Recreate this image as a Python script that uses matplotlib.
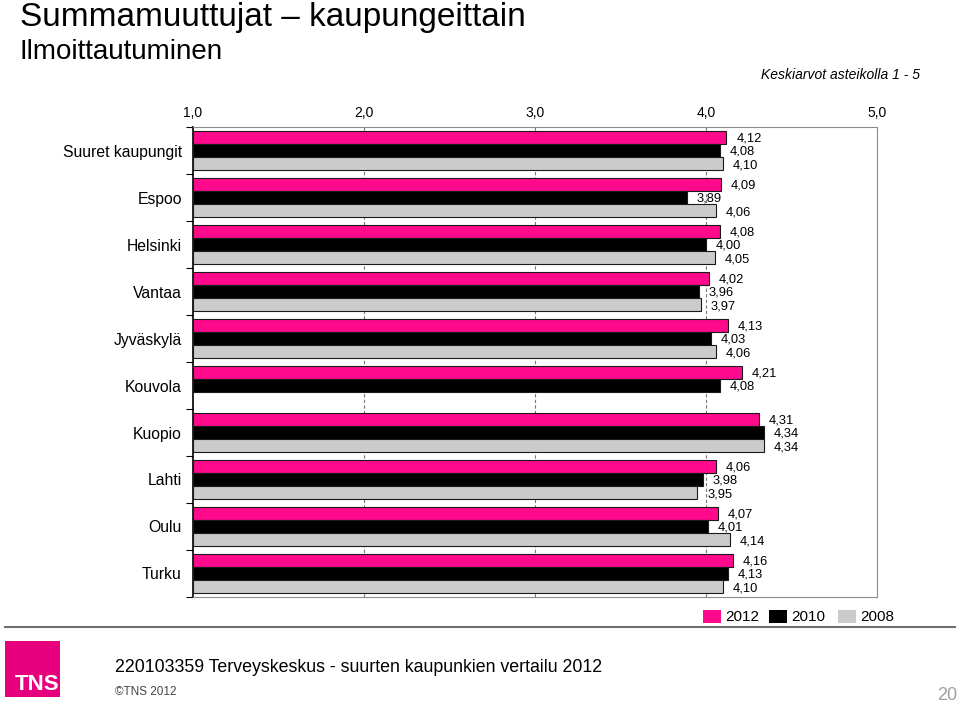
import numpy as np
import matplotlib
matplotlib.use("Agg")
from matplotlib import pyplot as plt
from matplotlib.patches import Rectangle

plt.rcParams['font.family'] = ['Liberation Sans', 'DejaVu Sans']

# The data
cities = ["Suuret kaupungit", "Espoo", "Helsinki", "Vantaa", "Jyväskylä",
          "Kouvola", "Kuopio", "Lahti", "Oulu", "Turku"]
v2012 = [4.12, 4.09, 4.08, 4.02, 4.13, 4.21, 4.31, 4.06, 4.07, 4.16]
v2010 = [4.08, 3.89, 4.00, 3.96, 4.03, 4.08, 4.34, 3.98, 4.01, 4.13]
v2008 = [4.10, 4.06, 4.05, 3.97, 4.06, np.nan, 4.34, 3.95, 4.14, 4.10]
years = ["2012", "2010", "2008"]
colors = ["#FF0A8C", "#000000", "#CBCBCB"]
xticks = [1.0, 2.0, 3.0, 4.0, 5.0]

fig = plt.figure(figsize=(9.6, 7.03), dpi=100)
ax = fig.add_axes([0.201, 0.1508, 0.7125, 0.6685])

y = np.arange(len(cities))
h = 0.283
series = [v2012, v2010, v2008]
for i in range(len(series)):
    vals = np.array(series[i], dtype=float)
    pos = y - h + i * h
    ok = ~np.isnan(vals)
    ax.barh(pos[ok], vals[ok] - 1.0, left=1.0, height=h, color=colors[i],
            edgecolor="#1a1a1a", linewidth=0.8, zorder=3)
    for p, v in zip(pos[ok], vals[ok]):
        ax.annotate(("%.2f" % v).replace(".", ","), xy=(v, p), xytext=(7, -1),
                    textcoords="offset points", ha="left", va="center",
                    fontsize=9.3, color="black")

ax.set_xlim(1.0, 5.0)
ax.set_ylim(len(cities) - 0.5, -0.5)
ax.xaxis.tick_top()
ax.set_xticks(xticks)
ax.set_xticklabels([("%.1f" % t).replace(".", ",") for t in xticks], fontsize=10)
ax.tick_params(axis="x", length=0, pad=5)
ax.set_yticks(y)
ax.set_yticklabels(cities, fontsize=11.3)
ax.tick_params(axis="y", which="major", length=0, pad=8)
ax.set_yticks(np.arange(len(cities) + 1) - 0.5, minor=True)
ax.tick_params(axis="y", which="minor", length=5, width=0.8, direction="out")

for g in [2.0, 3.0, 4.0]:
    ax.axvline(g, color="#777777", linestyle=(0, (3, 2)), linewidth=0.8, zorder=1)

for s in ["top", "right", "bottom"]:
    ax.spines[s].set_color("#8c8c8c")
ax.spines["left"].set_color("black")
ax.spines["left"].set_linewidth(1.2)

# Titles
fig.text(20 / 960, 1 - 26 / 703, "Summamuuttujat \u2013 kaupungeittain", fontsize=24,
         ha="left", va="baseline")
fig.text(20 / 960, 1 - 59 / 703, "Ilmoittautuminen", fontsize=20,
         ha="left", va="baseline")
fig.text(920 / 960, 1 - 75 / 703, "Keskiarvot asteikolla 1 - 5", fontsize=10,
         style="italic", ha="right", va="center")

# Legend
lx = [703, 769, 838]
for i in range(3):
    fig.patches.append(Rectangle((lx[i] / 960, 1 - 623 / 703), 18 / 960, 13 / 703,
                                 transform=fig.transFigure, facecolor=colors[i],
                                 edgecolor="none"))
    fig.text((lx[i] + 22) / 960, 1 - 617 / 703, years[i], fontsize=11,
             ha="left", va="center")

# Footer
fig.add_artist(plt.Line2D([5 / 960, 955 / 960], [1 - 627 / 703, 1 - 627 / 703],
                          transform=fig.transFigure, color="#707070", linewidth=1.5))
fig.patches.append(Rectangle((5 / 960, 1 - 697 / 703), 55 / 960, 56 / 703,
                             transform=fig.transFigure, facecolor="#E6007E",
                             edgecolor="none"))
fig.text(37 / 960, 1 - 684 / 703, "TNS", fontsize=16, color="white", weight="bold",
         ha="center", va="center")
fig.text(115 / 960, 1 - 667 / 703,
         "220103359 Terveyskeskus - suurten kaupunkien vertailu 2012",
         fontsize=12.75, ha="left", va="center")
fig.text(115 / 960, 1 - 692 / 703, "\u00a9TNS 2012", fontsize=8.5, color="#444444",
         ha="left", va="center")
fig.text(957 / 960, 1 - 696 / 703, "20", fontsize=13, color="#A0A0A0",
         ha="right", va="center")

fig.savefig("out.png", dpi=100)
